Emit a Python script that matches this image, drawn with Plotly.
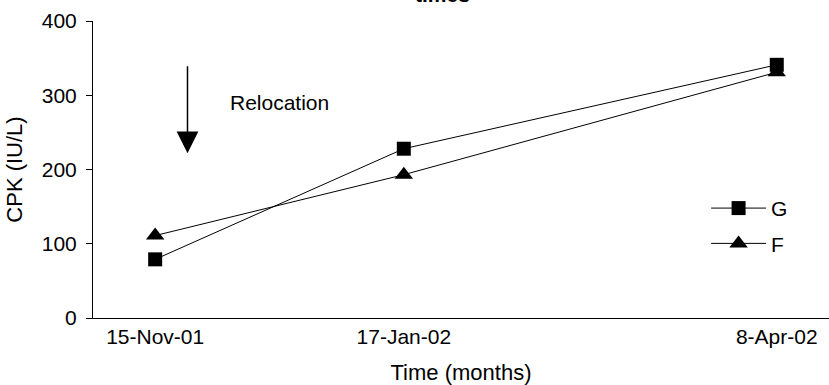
import plotly.graph_objects as go

# Sampling times, expressed as months since the first sample
months = [0, 2, 5]
date_labels = ["15-Nov-01", "17-Jan-02", "8-Apr-02"]

# CPK (IU/L) per group
cpk_g = [79, 228, 341]
cpk_f = [111, 193, 331]

FONT = "Liberation Sans, Arial, sans-serif"
FS = 21

fig = go.Figure()
fig.add_trace(go.Scatter(
    x=months, y=cpk_g, name="G", mode="lines+markers",
    line=dict(color="black", width=1),
    marker=dict(symbol="square", size=14, color="black"),
    legendgroup="g",
))
fig.add_trace(go.Scatter(
    x=months, y=cpk_f, name="F", mode="lines+markers",
    line=dict(color="black", width=1),
    marker=dict(symbol="triangle-up", size=16, color="black"),
    legendgroup="f",
))

# Relocation marker arrow and label
fig.add_annotation(
    x=0.26, y=222, ax=0.26, ay=341, xref="x", yref="y", axref="x", ayref="y",
    showarrow=True, arrowhead=2, arrowsize=2.9, arrowwidth=1.5, arrowcolor="black",
    text="",
)
fig.add_annotation(
    x=0.587, y=290, xref="x", yref="y", text="Relocation", showarrow=False,
    xanchor="left", yanchor="middle", font=dict(size=FS, color="black", family=FONT),
)

# Chart title (only its last line sits inside the page)
fig.add_annotation(
    x=0.4755, y=1, xref="paper", yref="paper", text="<b>times</b>", showarrow=False,
    xanchor="center", yanchor="bottom", yshift=13,
    font=dict(size=FS, color="black", family=FONT),
)

fig.update_layout(
    width=829, height=385,
    margin=dict(l=93, r=0, t=21, b=67),
    paper_bgcolor="white", plot_bgcolor="white",
    font=dict(family=FONT, size=FS, color="black"),
    showlegend=True,
    legend=dict(
        x=0.833, y=0.31, xanchor="left", yanchor="middle",
        bgcolor="rgba(0,0,0,0)", font=dict(size=FS),
        traceorder="grouped", tracegroupgap=5, itemwidth=55,
    ),
    xaxis=dict(
        range=[-0.5, 5.42], tickmode="array", tickvals=months, ticktext=date_labels,
        tickfont=dict(size=FS),
        showline=True, linecolor="black", linewidth=1, showgrid=False, zeroline=False,
        ticks="", title=dict(text="Time (months)", standoff=18, font=dict(size=22)),
    ),
    yaxis=dict(
        range=[0, 400], tickvals=[0, 100, 200, 300, 400], tickfont=dict(size=FS),
        showline=True, linecolor="black", linewidth=1, showgrid=False, zeroline=False,
        ticks="outside", ticklen=6, tickcolor="black", ticklabelstandoff=5,
        title=dict(text="CPK (IU/L)", standoff=13, font=dict(size=22)),
    ),
)

fig.write_html("out.html")
